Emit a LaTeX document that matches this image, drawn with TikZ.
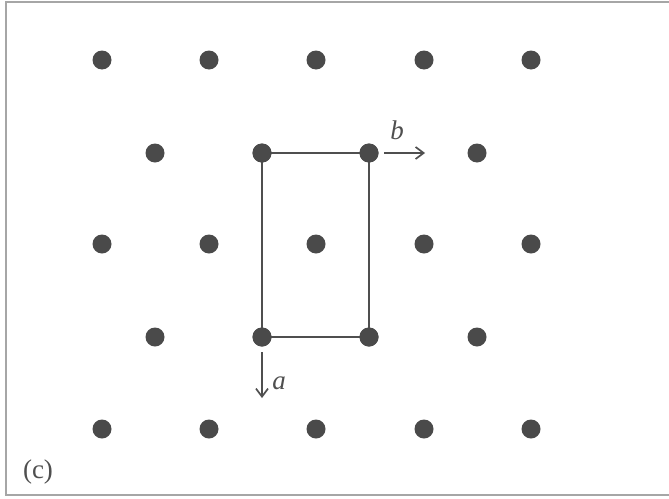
\documentclass[tikz,border=0pt]{standalone}
\usepackage{fontspec}
\setmainfont{Liberation Serif}
\usetikzlibrary{arrows.meta}
\definecolor{dotc}{HTML}{4A4A4A}
\definecolor{linec}{HTML}{4F4F4F}
\begin{document}
\begin{tikzpicture}[x=1pt,y=-1pt,
  latt/.style={circle,fill=dotc,inner sep=0pt,minimum size=19pt},
  cell/.style={draw=linec,line width=2pt},
  vec/.style={draw=linec,line width=1.7pt,-{Straight Barb[length=8pt,width=12pt,line width=1.7pt]}},
  lbl/.style={font=\fontsize{27}{30}\selectfont\itshape,text=linec,inner sep=0pt},
  frame/.style={draw=gray!70,line width=2pt}]
\useasboundingbox (0,0) rectangle (669,498);
\fill[white] (0,0) rectangle (669,498);
\draw[frame] (669,2) -- (6,2) -- (6,495) -- (669,495);
% rows 1,3,5
\foreach \r/\y in {1/60,3/244,5/429}{
  \foreach \c/\x in {1/102,2/209,3/316,4/424,5/531}{
    \node[latt] (d\r\c) at (\x,\y) {};
  }
}
% rows 2,4
\foreach \r/\y in {2/153,4/337}{
  \foreach \c/\x in {1/155,2/262,3/369,4/477}{
    \node[latt] (d\r\c) at (\x,\y) {};
  }
}
\draw[cell] (d22.center) -- (d23.center) -- (d43.center) -- (d42.center) -- cycle;
\node[latt] at (d22) {};
\node[latt] at (d23) {};
\node[latt] at (d42) {};
\node[latt] at (d43) {};
\coordinate (bs) at (384,153);
\coordinate (be) at (425,153);
\draw[vec] (bs) -- (be);
\node[lbl] (bl) at (397,130) {b};
\coordinate (as) at (262,352);
\coordinate (ae) at (262,398);
\draw[vec] (as) -- (ae);
\node[lbl] (al) at (279,383) {a};
\node[lbl,font=\fontsize{27}{30}\selectfont] (c) at (38,472) {(c)};
\end{tikzpicture}
\end{document}
